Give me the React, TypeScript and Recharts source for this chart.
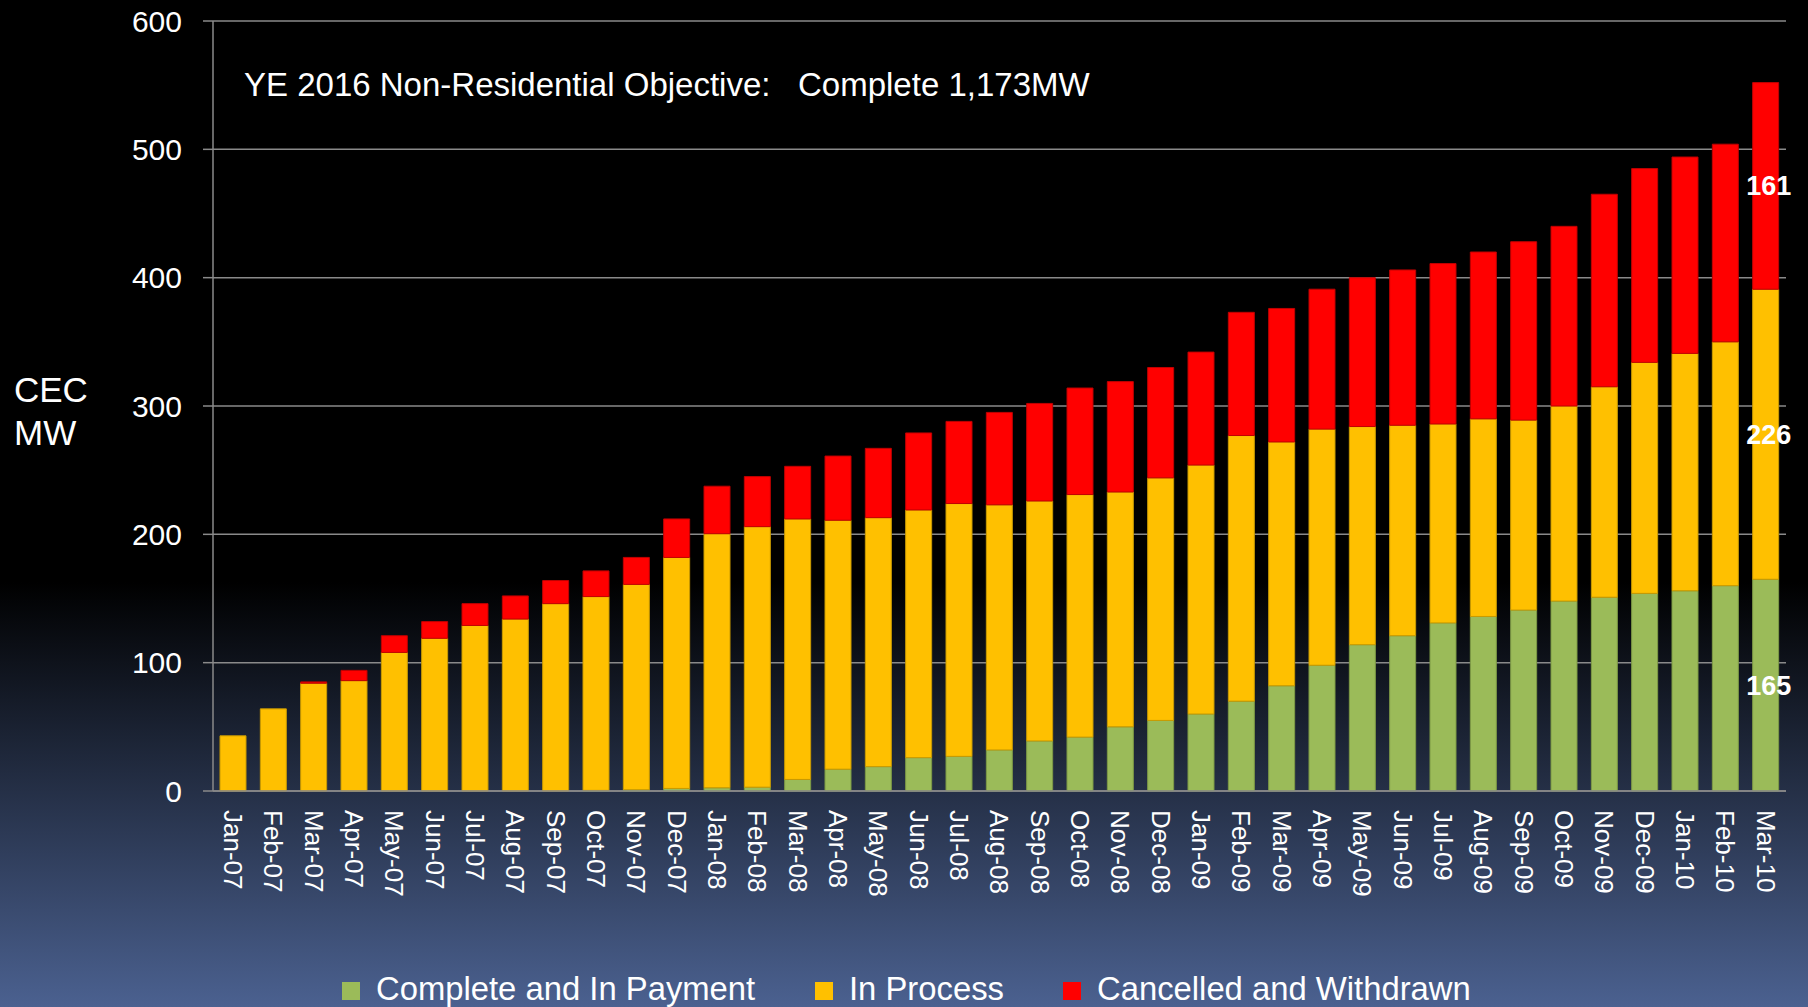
import React from "react";
import { BarChart, Bar, XAxis, YAxis, CartesianGrid, Legend, LabelList } from "recharts";

const months = [
  "Jan-07", "Feb-07", "Mar-07", "Apr-07", "May-07", "Jun-07", "Jul-07", "Aug-07", "Sep-07", "Oct-07", "Nov-07", "Dec-07",
  "Jan-08", "Feb-08", "Mar-08", "Apr-08", "May-08", "Jun-08", "Jul-08", "Aug-08", "Sep-08", "Oct-08", "Nov-08", "Dec-08",
  "Jan-09", "Feb-09", "Mar-09", "Apr-09", "May-09", "Jun-09", "Jul-09", "Aug-09", "Sep-09", "Oct-09", "Nov-09", "Dec-09",
  "Jan-10", "Feb-10", "Mar-10",
];

// MW per status
const completeMW = [
  0, 0, 0, 0, 0, 0, 0, 0, 0, 0.5, 1, 2,
  2.5, 3, 9, 17, 19, 26, 27, 32, 39, 42, 50, 55,
  60, 70, 82, 98, 114, 121, 131, 136, 141, 148, 151, 154,
  156, 160, 165,
];
const inProcessMW = [
  43, 64, 84, 86, 108, 119, 129, 134, 146, 151, 160, 180,
  198, 203, 203, 194, 194, 193, 197, 191, 187, 189, 183, 189,
  194, 207, 190, 184, 170, 164, 155, 154, 148, 152, 164, 180,
  185, 190, 226,
];
const cancelledMW = [
  0, 0, 1, 8, 13, 13, 17, 18, 18, 20, 21, 30,
  37, 39, 41, 50, 54, 60, 64, 72, 76, 83, 86, 86,
  88, 96, 104, 109, 116, 121, 125, 130, 139, 140, 150, 151,
  153, 154, 161,
];

const yTicks = [0, 100, 200, 300, 400, 500, 600];

const series = [
  { key: "complete", name: "Complete and In Payment", color: "#9BBB59", edge: "#7d9a45" },
  { key: "inProcess", name: "In Process", color: "#FFC000", edge: "#c99a00" },
  { key: "cancelled", name: "Cancelled and Withdrawn", color: "#FF0000", edge: "#c00000" },
];

const data = months.map((m, i) => ({
  month: m,
  complete: completeMW[i],
  inProcess: inProcessMW[i],
  cancelled: cancelledMW[i],
}));

const FONT = "'Liberation Sans', Arial, Helvetica, sans-serif";
const GRID = "#8a8a8a";
const lastMonth = months[months.length - 1];
const legendX = [342, 815, 1063];

const MonthTick = ({ x, y, payload }: any) => (
  <text
    transform={`translate(${x},${y}) rotate(90)`}
    dy="0.35em"
    textAnchor="start"
    fill="#fff"
    fontSize={26}
    fontFamily={FONT}
  >
    {payload.value}
  </text>
);

// only the last month carries value labels
const lastOnly = (key: string) => (row: any) => (row.month === lastMonth ? row[key] : null);

const renderLegend = () => (
  <svg width={1808} height={40} style={{ display: "block" }}>
    {series.map((s, i) => (
      <g key={s.key}>
        <rect x={legendX[i]} y={12} width={18} height={18} fill={s.color} />
        <text x={legendX[i] + 34} y={30} fill="#fff" fontSize={32.8} fontFamily={FONT}>
          {s.name}
        </text>
      </g>
    ))}
  </svg>
);

export default function App() {
  return (
    <div
      style={{
        position: "absolute",
        left: 0,
        top: 0,
        width: 1808,
        height: 1007,
        overflow: "hidden",
        background: "linear-gradient(to bottom, #000000 0%, #000000 57.8%, #4b6190 100%)",
        fontFamily: FONT,
      }}
    >
      <BarChart
        width={1808}
        height={1007}
        data={data}
        margin={{ top: 21, right: 22, bottom: 0, left: 0 }}
        barSize={26}
      >
        <CartesianGrid vertical={false} stroke={GRID} strokeWidth={1.5} />
        <XAxis
          dataKey="month"
          interval={0}
          height={216}
          tickLine={false}
          tickSize={0}
          tickMargin={19}
          axisLine={{ stroke: GRID, strokeWidth: 1.5 }}
          tick={<MonthTick />}
        />
        <YAxis
          width={213}
          domain={[0, 600]}
          ticks={yTicks}
          interval={0}
          tickSize={10}
          tickMargin={21}
          axisLine={{ stroke: GRID, strokeWidth: 1.5 }}
          tickLine={{ stroke: GRID, strokeWidth: 1.5 }}
          tick={{ fill: "#fff", fontSize: 30, fontFamily: FONT }}
        />
        <Legend
          layout="horizontal"
          verticalAlign="middle"
          align="center"
          wrapperStyle={{ top: 970, left: 0, width: 1808, height: 40 }}
          content={renderLegend}
        />
        {series.map((s) => (
          <Bar
            key={s.key}
            dataKey={s.key}
            name={s.name}
            stackId="mw"
            fill={s.color}
            stroke={s.edge}
            strokeWidth={1}
            isAnimationActive={false}
          >
            <LabelList
              dataKey={lastOnly(s.key)}
              position="center"
              dx={3}
              fill="#fff"
              stroke="none"
              fontSize={27}
              fontWeight="bold"
              fontFamily={FONT}
            />
          </Bar>
        ))}
      </BarChart>
      <svg
        width={1808}
        height={1007}
        style={{ position: "absolute", left: 0, top: 0, pointerEvents: "none" }}
      >
        <text x={244} y={96} fill="#fff" fontSize={33} fontFamily={FONT}>
          YE 2016 Non-Residential Objective:
        </text>
        <text x={798} y={96} fill="#fff" fontSize={33} fontFamily={FONT}>
          Complete 1,173MW
        </text>
        <text x={14} y={402} fill="#fff" fontSize={35} fontFamily={FONT}>
          CEC
        </text>
        <text x={14} y={445} fill="#fff" fontSize={35} fontFamily={FONT}>
          MW
        </text>
      </svg>
    </div>
  );
}
